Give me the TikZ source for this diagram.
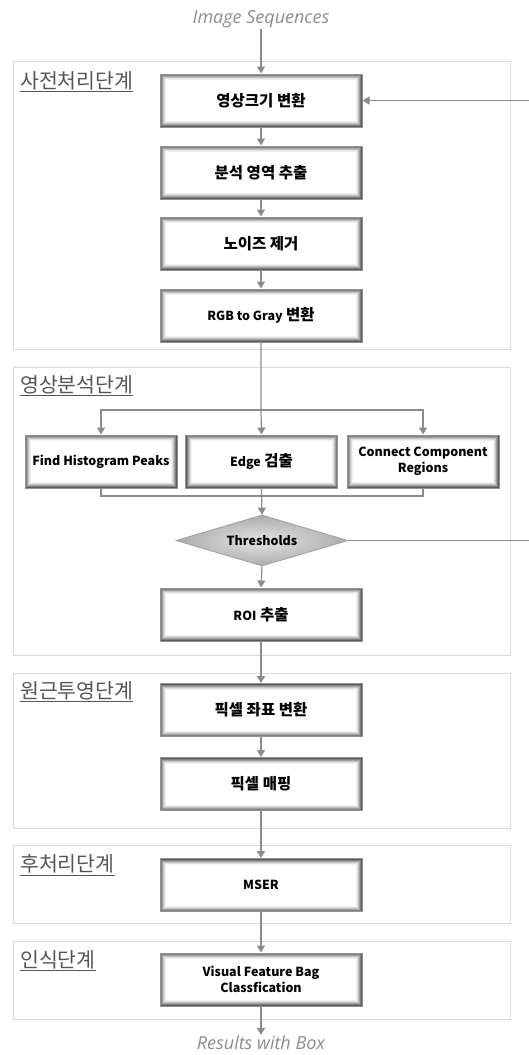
\documentclass[tikz,border=0pt]{standalone}
\usepackage{fontspec}
\usetikzlibrary{arrows.meta,shapes.geometric}
\newfontfamily\kr{Noto Sans CJK KR}
\newfontfamily\itf{Open Sans}
\newcommand\latn[1]{{\fontsize{12.5}{15}\selectfont #1}}
\definecolor{arr}{HTML}{8C8C8C}
\definecolor{lab}{HTML}{555555}
\definecolor{frm}{HTML}{DADADA}
\begin{document}
\begin{tikzpicture}[x=1pt,y=-1pt,
  stage/.style={draw=frm,line width=1pt},
  stagelabel/.style={anchor=west,text=lab,inner sep=0pt,font=\kr\fontsize{20.5}{24}\selectfont},
  box/.style={draw=gray!85,line width=1pt,fill=white,minimum width=202pt,minimum height=53pt,inner sep=2pt,
    align=center,font=\kr\bfseries\fontsize{15.5}{18}\selectfont,
    path picture={
      \foreach \i/\c in {1/65,2/50,3/36,4/24,5/13,6/5}
        \draw[black!\c,line width=1pt] ([shift={(\i pt-0.5pt,-\i pt+0.5pt)}]path picture bounding box.north west) rectangle ([shift={(-\i pt+0.5pt,\i pt-0.5pt)}]path picture bounding box.south east);
    }},
  sbox/.style={box,minimum width=152pt},
  flow/.style={draw=arr,line width=1.2pt},
  arrow/.style={flow,-{Triangle[width=8pt,length=7pt]}},
  io/.style={text=arr,font=\itf\itshape\fontsize{18}{21}\selectfont,inner sep=1pt}
]
\useasboundingbox (0,0) rectangle (529,1055);
\fill[white] (0,0) rectangle (529,1055);

% stage frames
\draw[stage] (13,61) rectangle (510,349);
\draw[stage] (13,367) rectangle (510,655);
\draw[stage] (13,673) rectangle (510,828);
\draw[stage] (13,845) rectangle (510,923);
\draw[stage] (13,941) rectangle (510,1019);

\node[stagelabel] (l1) at (20,82) {\underline{사전처리단계}};
\node[stagelabel] (l2) at (20,386) {\underline{영상분석단계}};
\node[stagelabel] (l3) at (20,692) {\underline{원근투영단계}};
\node[stagelabel] (l4) at (20,865) {\underline{후처리단계}};
\node[stagelabel] (l5) at (20,961) {\underline{인식단계}};

% input / output
\node[io] (in) at (261,19) {Image Sequences};
\node[io] (out) at (261,1043) {Results with Box};

% boxes
\node[box] (b1) at (261,100.5) {영상크기 변환};
\node[box] (b2) at (261,172.5) {분석 영역 추출};
\node[box] (b3) at (261,243.5) {노이즈 제거};
\node[box] (b4) at (261,315.5) {\latn{RGB to Gray} 변환};

\node[sbox] (ba) at (101,461.5) {\latn{Find Histogram Peaks}};
\node[sbox] (bb) at (261.5,461.5) {\latn{Edge} 검출};
\node[sbox] (bc) at (423,461.5) {\latn{Connect Component}\\[-2pt]\latn{Regions}};

\node[diamond,aspect=3.37,inner sep=0pt,minimum width=172pt,minimum height=51pt,
  draw=gray!75,line width=0.8pt,inner color=gray!22,outer color=gray!65,
  font=\kr\bfseries\fontsize{12.5}{15}\selectfont] (th) at (262,540.5) {Thresholds};

\node[box] (roi) at (261,614.5) {\latn{ROI} 추출};
\node[box] (b5) at (261,710) {픽셀 좌표 변환};
\node[box] (b6) at (261,784) {픽셀 매핑};
\node[box] (ms) at (261,885) {\latn{MSER}};
\node[box] (vf) at (261,979.5) {\latn{Visual Feature Bag}\\[-2pt]\latn{Classfication}};

% connectors
\draw[arrow] (in) -- (b1);
\draw[arrow] (b1) -- (b2);
\draw[arrow] (b2) -- (b3);
\draw[arrow] (b3) -- (b4);
\coordinate (sp) at (261,410);
\draw[arrow] (b4.south) -- (sp) -- (bb.north);
\draw[arrow] (sp) -| (ba.north);
\draw[arrow] (sp) -| (bc.north);
\coordinate (mg) at (261.5,496);
\draw[flow] (ba.south) |- (mg);
\draw[flow] (bc.south) |- (mg);
\draw[arrow] (bb.south) -- (th.north);
\draw[arrow] (th.south) -- (roi.north);
\coordinate (fb1) at (529.5,540.5);
\coordinate (fb2) at (529.5,100.5);
\draw[arrow] (th.east) -- (fb1) -- (fb2) -- (b1.east);
\draw[arrow] (roi) -- (b5);
\draw[arrow] (b5) -- (b6);
\draw[arrow] (b6) -- (ms);
\draw[arrow] (ms) -- (vf);
\draw[arrow] (vf) -- (out);
\end{tikzpicture}
\end{document}
